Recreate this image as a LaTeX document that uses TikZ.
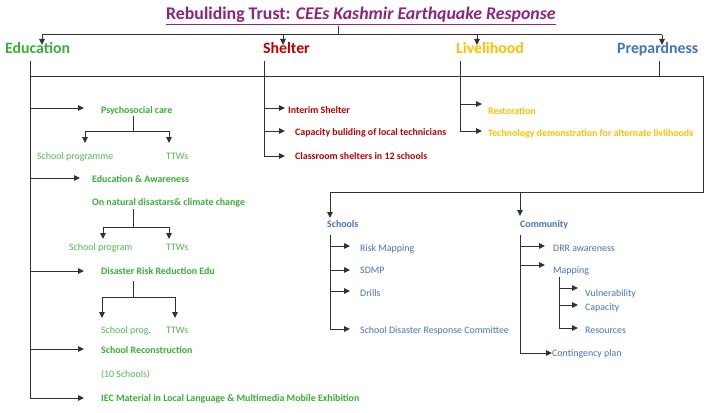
\documentclass[tikz,border=0pt]{standalone}
\usepackage{fontspec}
\setmainfont{Carlito}
\usetikzlibrary{arrows.meta}
\definecolor{titlepurple}{RGB}{140,36,128}
\definecolor{edgreen}{RGB}{58,174,58}
\definecolor{leafgreen}{RGB}{80,184,80}
\definecolor{shred}{RGB}{192,0,0}
\definecolor{liveorange}{RGB}{255,192,0}
\definecolor{prepblue}{RGB}{68,114,196}
\definecolor{linegray}{RGB}{50,50,50}
\begin{document}
\begin{tikzpicture}[x=1pt,y=-1pt,
  conn/.style={draw=linegray,line width=1pt},
  arr/.style={conn,-{Triangle[length=6pt,width=5.5pt]}},
  head/.style={anchor=base west,inner sep=0pt,font=\fontsize{15.8}{18}\selectfont\bfseries},
  sub/.style={anchor=base west,inner sep=0pt,font=\fontsize{9.9}{11}\selectfont\bfseries},
  leaf/.style={anchor=base west,inner sep=0pt,font=\fontsize{9.9}{11}\selectfont}]
\fill[white] (0,0) rectangle (714,412);
\useasboundingbox (0,0) rectangle (714,412);

% Title
\node[anchor=base west,inner sep=0pt,text=titlepurple,font=\fontsize{17.8}{20}\selectfont\bfseries] (title) at (166,20)
  {\underline{Rebuliding Trust: \textit{CEEs Kashmir Earthquake Response}}};

% Headers
\node[head,text=edgreen] (edu) at (5,54) {Education};
\node[head,text=shred] (shel) at (263,54) {Shelter};
\node[head,text=liveorange] (live) at (456,54) {Livelihood};
\node[head,text=prepblue] (prep) at (617,54) {Prepardness};

% Top connectors
\coordinate (tt) at (338,26);
\coordinate (tj) at (338,35);
\coordinate (hl) at (42,35);
\coordinate (hr) at (662,35);
\coordinate (eA) at (42,45);
\coordinate (sA0) at (283,45);
\coordinate (lA) at (477,45);
\coordinate (pA) at (662,45);
\draw[conn] (tt) -- (tj);
\draw[conn] (hl) -- (hr);
\draw[arr] (eA |- hl) -- (eA);
\draw[arr] (sA0 |- hl) -- (sA0);
\draw[arr] (lA |- hl) -- (lA);
\draw[arr] (pA |- hl) -- (pA);

% ---------------- Education ----------------
\node[sub,text=edgreen] (psy) at (101,113) {Psychosocial care};
\node[leaf,text=leafgreen] (sp1) at (37,159) {School programme};
\node[leaf,text=leafgreen] (tt1) at (166,159) {TTWs};
\node[sub,text=edgreen] (eaw) at (92,182) {Education \& Awareness};
\node[sub,text=edgreen] (ond) at (92,205) {On natural disastars\& climate change};
\node[leaf,text=leafgreen] (sp2) at (69,250) {School program};
\node[leaf,text=leafgreen] (tt2) at (166,250) {TTWs};
\node[sub,text=edgreen] (drr) at (101,274) {Disaster Risk Reduction Edu};
\node[leaf,text=leafgreen] (sp3) at (101,333) {School prog.};
\node[leaf,text=leafgreen] (tt3) at (166,333) {TTWs};
\node[sub,text=edgreen] (srec) at (101,353) {School Reconstruction};
\node[leaf,text=leafgreen] (ten) at (101,377) {(10 Schools)};
\node[sub,text=edgreen] (iec) at (101,401) {IEC Material in Local Language \& Multimedia Mobile Exhibition};

\coordinate (eT) at (30,61);
\coordinate (eB) at (30,398);
\draw[conn] (eT) -- (eB);
\coordinate (a1) at (84,108);
\coordinate (a2) at (80,178);
\coordinate (a3) at (84,271);
\coordinate (a4) at (84,349);
\coordinate (a5) at (84,398);
\draw[arr] (eT |- a1) -- (a1);
\draw[arr] (eT |- a2) -- (a2);
\draw[arr] (eT |- a3) -- (a3);
\draw[arr] (eT |- a4) -- (a4);
\draw[arr] (eT |- a5) -- (a5);

% tree 1
\coordinate (t1a) at (133,116);
\coordinate (t1b) at (133,131);
\coordinate (t1l) at (85,143);
\coordinate (t1r) at (169,143);
\draw[conn] (t1a) -- (t1b);
\draw[arr] (t1b) -| (t1l);
\draw[arr] (t1b) -| (t1r);
% tree 2
\coordinate (t2a) at (133,209);
\coordinate (t2b) at (133,227);
\coordinate (t2l) at (103,239);
\coordinate (t2r) at (169,239);
\draw[conn] (t2a) -- (t2b);
\draw[arr] (t2b) -| (t2l);
\draw[arr] (t2b) -| (t2r);
% tree 3
\coordinate (t3a) at (133,281);
\coordinate (t3b) at (133,297);
\coordinate (t3l) at (102,318);
\coordinate (t3r) at (175,318);
\draw[conn] (t3a) -- (t3b);
\draw[arr] (t3b) -| (t3l);
\draw[arr] (t3b) -| (t3r);

% ---------------- Shelter ----------------
\node[sub,text=shred] (ints) at (288,113) {Interim Shelter};
\node[sub,text=shred] (capb) at (295,135) {Capacity buliding of local technicians};
\node[sub,text=shred] (clas) at (295,159) {Classroom shelters in 12 schools};
\coordinate (sT) at (264,61);
\coordinate (sB) at (264,156);
\draw[conn] (sT) -- (sB);
\coordinate (b1) at (285,108);
\coordinate (b2) at (285,131);
\coordinate (b3) at (285,156);
\draw[arr] (sT |- b1) -- (b1);
\draw[arr] (sT |- b2) -- (b2);
\draw[arr] (sT |- b3) -- (b3);

% ---------------- Livelihood ----------------
\node[sub,text=liveorange] (rest) at (488,114) {Restoration};
\node[sub,text=liveorange] (tech) at (488,136) {Technology demonstration for alternate livlihoods};
\coordinate (lT) at (460,61);
\coordinate (lB) at (460,131);
\draw[conn] (lT) -- (lB);
\coordinate (c1) at (482,104);
\coordinate (c2) at (482,131);
\draw[arr] (lT |- c1) -- (c1);
\draw[arr] (lT |- c2) -- (c2);

% ---------------- Preparedness ----------------
\coordinate (pT) at (659,61);
\coordinate (pJ) at (659,76);
\coordinate (hL) at (30,76);
\coordinate (hR) at (703,76);
\coordinate (hRB) at (703,192);
\coordinate (sJ) at (330,192);
\coordinate (cJ) at (520,192);
\coordinate (sAr) at (330,218);
\coordinate (cAr) at (520,216);
\draw[conn] (pT) -- (pJ);
\draw[conn] (hL) -- (hR) -- (hRB) -- (sJ);
\draw[arr] (sJ) -- (sAr);
\draw[arr] (cJ) -- (cAr);

\node[sub,text=prepblue] (scho) at (327,227) {Schools};
\node[sub,text=prepblue] (comm) at (520,227) {Community};

\node[leaf,text=prepblue] (riskm) at (360,251) {Risk Mapping};
\node[leaf,text=prepblue] (sdmp) at (360,273) {SDMP};
\node[leaf,text=prepblue] (drill) at (360,296) {Drills};
\node[leaf,text=prepblue] (sdrc) at (360,333) {School Disaster Response Committee};
\coordinate (scT) at (330,235);
\coordinate (scB) at (330,329);
\draw[conn] (scT) -- (scB);
\coordinate (d1) at (350,246);
\coordinate (d2) at (350,270);
\coordinate (d3) at (350,291);
\coordinate (d4) at (350,329);
\draw[arr] (scT |- d1) -- (d1);
\draw[arr] (scT |- d2) -- (d2);
\draw[arr] (scT |- d3) -- (d3);
\draw[arr] (scT |- d4) -- (d4);

\node[leaf,text=prepblue] (drra) at (553,251) {DRR awareness};
\node[leaf,text=prepblue] (mapp) at (553,273) {Mapping};
\node[leaf,text=prepblue] (vuln) at (585,296) {Vulnerability};
\node[leaf,text=prepblue] (capa) at (585,310) {Capacity};
\node[leaf,text=prepblue] (reso) at (585,333) {Resources};
\node[leaf,text=prepblue] (cont) at (552,356) {Contingency plan};
\coordinate (coT) at (520,235);
\coordinate (coB) at (520,353);
\draw[conn] (coT) -- (coB);
\coordinate (f1) at (545,246);
\coordinate (f2) at (545,265);
\coordinate (f3) at (552,353);
\draw[arr] (coT |- f1) -- (f1);
\draw[arr] (coT |- f2) -- (f2);
\draw[arr] (coT |- f3) -- (f3);
\coordinate (mT) at (559,277);
\coordinate (mB) at (559,328);
\draw[conn] (mT) -- (mB);
\coordinate (g1) at (578,288);
\coordinate (g2) at (578,305);
\coordinate (g3) at (578,328);
\draw[arr] (mT |- g1) -- (g1);
\draw[arr] (mT |- g2) -- (g2);
\draw[arr] (mT |- g3) -- (g3);
\end{tikzpicture}
\end{document}
